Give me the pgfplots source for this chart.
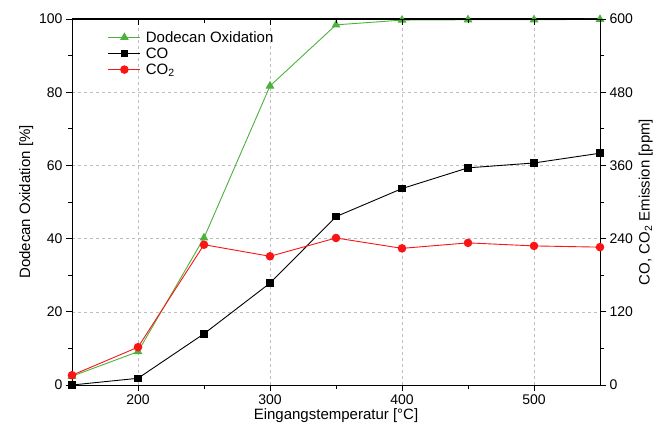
\documentclass[border=0pt]{standalone}
\usepackage{fontspec}
\setmainfont{Liberation Sans}
\usepackage{pgfplots}
\pgfplotsset{compat=1.18}
\begin{document}
\begin{tikzpicture}

\definecolor{ogreen}{RGB}{76,178,60}
\definecolor{ored}{RGB}{250,20,20}
\definecolor{gridgray}{RGB}{190,190,190}

\useasboundingbox (-72pt,-48pt) rectangle (583pt,385pt);

\pgfplotsset{
  every axis/.append style={
    width=528pt, height=366pt, scale only axis,
    xmin=150, xmax=550,
    xtick={200,300,400,500},
    minor x tick num=1,
    minor y tick num=1,
    tick label style={font=\fontsize{14}{16}\selectfont},
    label style={font=\fontsize{15}{18}\selectfont},
    /pgf/number format/assume math mode=true,
    axis line style={line width=1pt},
    major tick length=6pt,
    minor tick length=4pt,
    every tick/.style={black, line width=0.8pt},
  },
}

\begin{axis}[
  ymin=0, ymax=100,
  ytick={0,20,40,60,80,100},
  xtick pos=bottom,
  ytick pos=left,
  tick align=outside,
  xmajorgrids, ymajorgrids,
  grid style={gridgray, dashed, line width=0.6pt},
  xlabel={Eingangstemperatur [°C]},
  ylabel={Dodecan Oxidation [\%]},
  xlabel style={yshift=3pt},
  ylabel style={yshift=-1pt},
]
\addplot [line width=0.9pt, ogreen, mark=triangle*, mark size=4.2pt, mark options={solid}]
table {%
150 2.4
200 9.1
250 40.2
300 81.7
350 98.4
400 99.7
450 99.8
500 99.8
550 99.9
};
\end{axis}

\begin{axis}[
  ymin=0, ymax=600,
  ytick={0,120,240,360,480,600},
  xtick pos=top,
  ytick pos=right,
  xticklabels={},
  xtick align=inside,
  ytick align=outside,
  yticklabel pos=right,
  ylabel near ticks,
  ylabel={CO, CO\textsubscript{2} Emission [ppm]},
  ylabel style={font=\fontsize{15}{18}\selectfont, yshift=1pt},
  legend cell align={left},
  legend style={
    draw=none, fill=none,
    at={(0.062,0.978)}, anchor=north west,
    font=\fontsize{15}{18}\selectfont,
    row sep=0pt,
    /tikz/every odd column/.append style={column sep=3pt},
  },
  legend image code/.code={
    \draw[mark repeat=2, mark phase=2] plot coordinates {(0pt,0pt) (16pt,0pt) (32pt,0pt)};
  },
]
\addlegendimage{line width=0.9pt, ogreen, mark=triangle*, mark size=4.2pt, mark options={solid}}
\addlegendentry{Dodecan Oxidation}
\addplot [line width=0.9pt, black, mark=square*, mark size=3.3pt, mark options={solid}]
table {%
150 0
200 11
250 84
300 167
350 276
400 322
450 356
500 364
550 380
};
\addlegendentry{CO}
\addplot [line width=0.9pt, ored, mark=*, mark size=3.8pt, mark options={solid}]
table {%
150 16
200 62
250 230
300 211
350 241
400 224
450 233
500 228
550 226
};
\addlegendentry{CO\textsubscript{2}}
\end{axis}

\end{tikzpicture}
\end{document}
